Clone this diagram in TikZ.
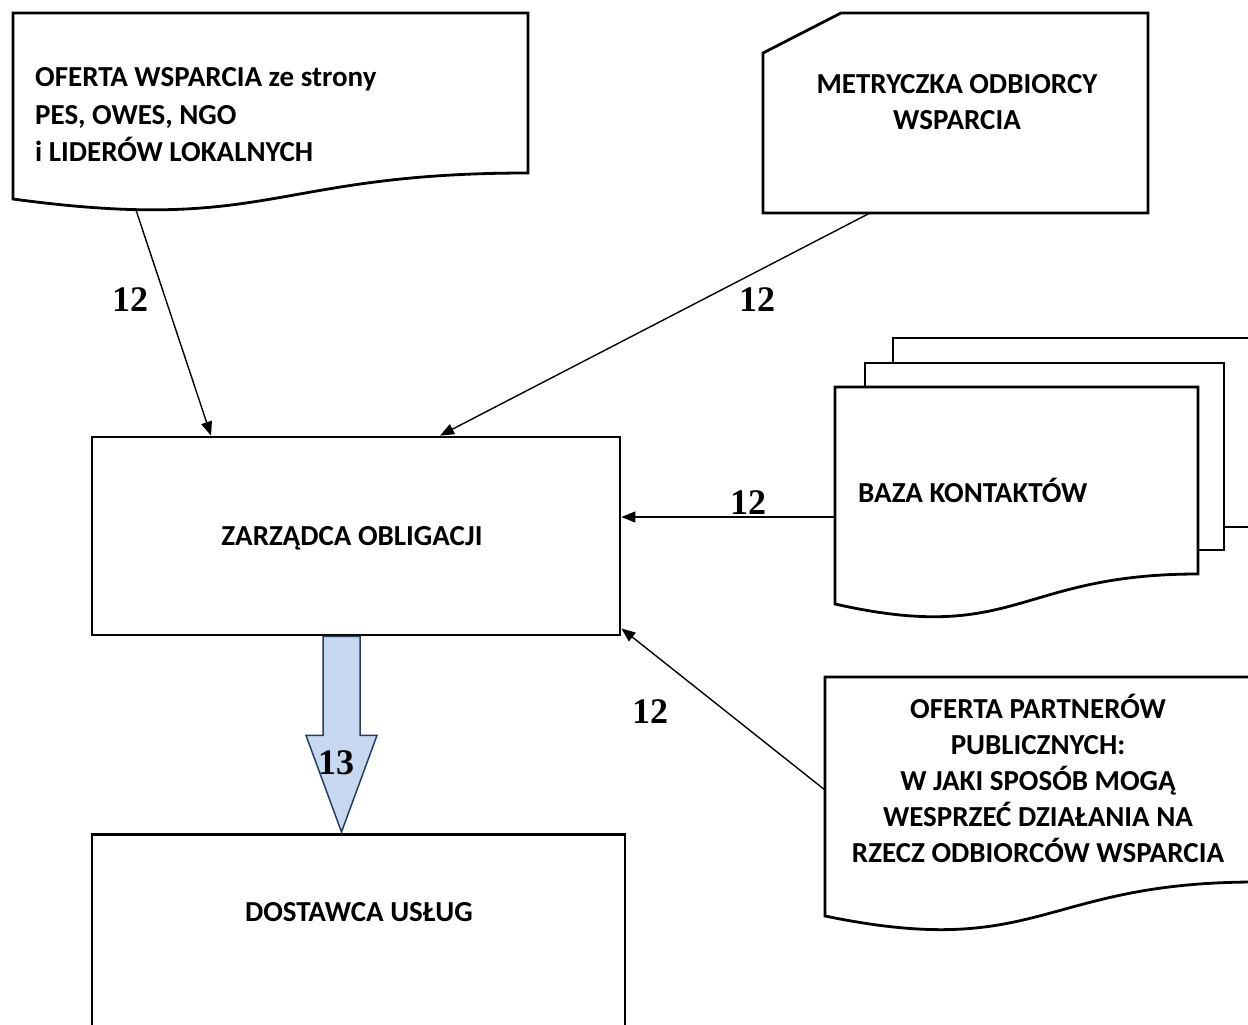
\documentclass[tikz,border=0pt]{standalone}
\usepackage{fontspec}
\setmainfont{Carlito}
\newfontfamily\tnr{Liberation Serif}
\usetikzlibrary{arrows.meta,calc}
\definecolor{arrfill}{HTML}{C6D9F1}
\definecolor{arrdraw}{HTML}{243F60}
\tikzset{
  shapeline/.style={draw=black, line width=2.8pt, fill=white, line join=miter},
  boxnode/.style={shapeline, rectangle, inner sep=0pt},
  lbl/.style={font=\fontsize{29}{36}\selectfont\bfseries, inner sep=0pt},
  num/.style={font=\fontsize{36}{40}\selectfont\tnr\bfseries, inner sep=0pt},
  conn/.style={draw=black, line width=1.4pt, -{Triangle[length=14pt,width=11pt]}},
  blockarrow/.style={draw=arrdraw, line width=1.5pt, fill=arrfill, line join=miter}
}
\begin{document}
\begin{tikzpicture}[x=1pt,y=-1pt]
\useasboundingbox (0,0) rectangle (1248,1025);
\clip (0,0) rectangle (1248,1025);

% document 1 (top-left)
\draw[shapeline] (13,13) -- (528,13) -- (528,173) .. controls (270.5,173) and (270.5,234) .. (13,199) -- cycle;
\node[lbl, anchor=west, align=left, font=\fontsize{29}{37.5}\selectfont\bfseries] (oferta) at (35,115) {OFERTA WSPARCIA ze strony\\PES, OWES, NGO\\i LIDERÓW LOKALNYCH};
\coordinate (d1out) at (136,210);

% card (METRYCZKA)
\draw[shapeline] (763,53) -- (841,13) -- (1148,13) -- (1148,213) -- (763,213) -- cycle;
\node[lbl, align=center] (metr) at (957,102) {METRYCZKA ODBIORCY\\WSPARCIA};
\coordinate (metrout) at (870,213);

% ZARZADCA box
\node[boxnode, minimum width=528pt, minimum height=198pt] (zar) at (356,536) {};
\node[lbl] (zartext) at (352,538) {ZARZĄDCA OBLIGACJI};

% DOSTAWCA box
\node[boxnode, minimum width=533pt, minimum height=230pt, anchor=north] (dost) at (358.5,833) {};
\node[lbl] (dosttext) at (359,912) {DOSTAWCA USŁUG};

% multi-document (BAZA KONTAKTOW)
\draw[shapeline] (893,338) rectangle (1262,527);
\draw[shapeline] (865,363) rectangle (1224,550);
\draw[shapeline] (835,387) -- (1198,387) -- (1198,574) .. controls (1016.5,574) and (1016.5,645) .. (835,604) -- cycle;
\node[lbl, anchor=west] (baza) at (858,490) {BAZA KONTAKTÓW};
\coordinate (bazaout) at (835,517);

% document (OFERTA PARTNEROW)
\draw[shapeline] (825,677) -- (1256,677) -- (1256,882) .. controls (1040.5,882) and (1040.5,960.5) .. (825,916) -- cycle;
\node[lbl, align=center] (partn) at (1038,778) {OFERTA PARTNERÓW\\PUBLICZNYCH:\\W JAKI SPOSÓB MOGĄ\\WESPRZEĆ DZIAŁANIA NA\\RZECZ ODBIORCÓW WSPARCIA};
\coordinate (partnout) at (825,790);

% connectors
\draw[conn] (d1out) -- (zar.north -| 211,0);
\draw[conn] (metrout) -- (zar.north -| 440,0);
\draw[conn] (bazaout) -- (zar.east |- bazaout);
\draw[conn] (partnout) -- ($(zar.south east)+(0,-8)$);

% block arrow 13
\coordinate (bt) at ($(zar.south)+(-14.5,0)$);
\coordinate (btip) at (bt |- dost.north);
\draw[blockarrow] ($(bt)+(-18.5,0)$) -- ($(bt)+(18.5,0)$) -- ($(bt)+(18.5,99)$) -- ($(bt)+(35.5,99)$) -- ($(btip)+(0,-1)$) -- ($(bt)+(-35.5,99)$) -- ($(bt)+(-18.5,99)$) -- cycle;

% labels
\node[num] (n1) at (130,300) {12};
\node[num] (n2) at (757,300) {12};
\node[num] (n3) at (748,503) {12};
\node[num] (n4) at (650,712) {12};
\node[num] (n5) at (336,763) {13};
\end{tikzpicture}
\end{document}
